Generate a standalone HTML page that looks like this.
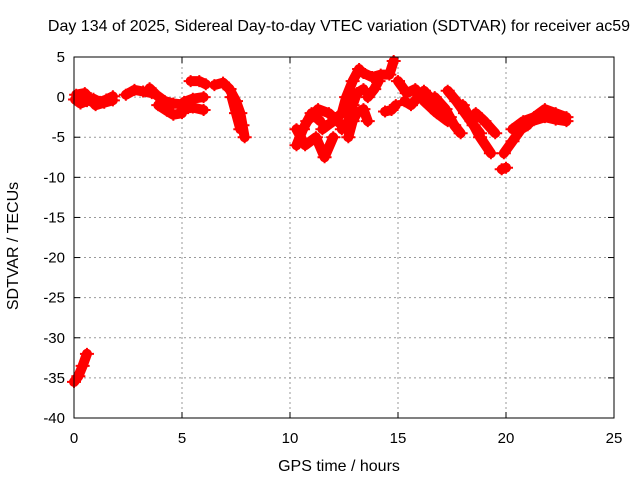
<!DOCTYPE html>
<html><head><meta charset="utf-8"><style>
body{margin:0;background:#fff}
svg{display:block;font-family:"Liberation Sans",sans-serif;font-size:15px}
</style></head><body>
<svg id="c" width="640" height="480">
<text x="339" y="31" text-anchor="middle" font-size="16">Day 134 of 2025, Sidereal Day-to-day VTEC variation (SDTVAR) for receiver ac59</text>
<text x="339" y="471" text-anchor="middle" font-size="16">GPS time / hours</text>
<text transform="translate(18,246) rotate(-90)" text-anchor="middle" font-size="16">SDTVAR / TECUs</text>
<g id="grid"></g><g id="ticks"></g><g id="marks"></g>
<rect x="74" y="57" width="540" height="361" fill="none" stroke="#000"/>
</svg>
<script>
const xTicks=[0,5,10,15,20,25];
const yTicks=[5,0,-5,-10,-15,-20,-25,-30,-35,-40];
const track1=[[0.0,-35.5],[0.2,-34.8],[0.4,-33.5],[0.6,-32]];
const track2=[[0.05,-0.3],[0.3,-0.8],[0.6,-0.5],[0.9,-0.2],[1.2,-0.6],[1.5,-0.3],[1.8,0.1]];
const track3=[[0.1,0.3],[0.5,0.5],[1.0,-1],[1.4,-0.7],[1.8,-0.4]];
const track4=[[2.4,0.3],[2.8,0.9],[3.2,0.7],[3.6,0.5]];
const track5=[[3.5,1.1],[3.8,0.3],[4.2,-0.5],[4.6,-0.8],[5.0,-0.9]];
const track6=[[3.9,-1],[4.3,-1.7],[4.6,-2.2],[5.0,-2]];
const track7=[[5.1,-0.6],[5.5,-0.2],[6.0,0]];
const track8=[[5.1,-1.5],[5.5,-1.3],[6.0,-1.6]];
const track9=[[5.4,2],[5.8,2],[6.1,1.6]];
const track10=[[6.5,1.5],[6.9,1.8],[7.2,1]];
const track11=[[7.2,1],[7.5,-0.5],[7.7,-2],[7.8,-3.5],[7.9,-5]];
const track12=[[7.3,0],[7.5,-2],[7.7,-4]];
const track13=[[10.3,-6],[10.6,-4],[11.0,-2],[11.4,-3]];
const track14=[[10.3,-4],[10.7,-6],[11.2,-5],[11.6,-7.5],[12.0,-5]];
const track15=[[10.8,-3],[11.3,-1.5],[11.8,-2],[12.2,-3],[12.6,-4]];
const track16=[[11.5,-4],[12.0,-3],[12.4,-2],[12.6,0],[12.9,2],[13.2,3.5]];
const track17=[[12.4,-4],[12.7,-3],[12.9,-1],[13.1,0.5],[13.4,1]];
const track18=[[12.7,-5],[12.9,-3],[13.1,-2],[13.4,-1.5],[13.6,-3]];
const track19=[[13.4,3],[13.8,2.5],[14.2,2.8],[14.6,2.8],[14.8,4.5]];
const track20=[[13.6,0],[13.9,1],[14.1,2]];
const track21=[[14.4,-1.8],[14.7,-1.6],[14.9,-1]];
const track22=[[15.0,2],[15.4,0.5],[15.8,1],[16.2,-0.5],[16.8,-2],[17.3,-3]];
const track23=[[15.3,-0.5],[15.6,-1],[16.2,0.8],[16.8,-1],[17.4,-2.5]];
const track24=[[16.7,0],[17.2,-1.5],[17.6,-3.5],[17.9,-4.5]];
const track25=[[17.3,0.8],[17.7,-0.5],[18.1,-2],[18.5,-3.5],[18.8,-4.5]];
const track26=[[18.0,-1],[18.4,-3],[18.8,-5],[19.3,-7]];
const track27=[[18.6,-2],[19.0,-3],[19.5,-4.5]];
const track28=[[19.8,-9],[20.0,-8.8]];
const track29=[[19.9,-7],[20.3,-5.5],[20.7,-4],[21.0,-3.5]];
const track30=[[20.3,-4],[20.8,-3],[21.3,-2.5],[21.8,-1.5],[22.3,-2],[22.8,-2.5]];
const track31=[[21.2,-3],[21.8,-2.5],[22.3,-2.8],[22.8,-3]];
const tracks=[track1,track2,track3,track4,track5,track6,track7,track8,track9,track10,track11,track12,track13,track14,track15,track16,track17,track18,track19,track20,track21,track22,track23,track24,track25,track26,track27,track28,track29,track30,track31];

const NS="http://www.w3.org/2000/svg";
const X=v=>74+v*540/25, Y=v=>57+(5-v)*361/45;
const grid=document.getElementById('grid'),ticks=document.getElementById('ticks'),marks=document.getElementById('marks');
function mk(tag,attrs,parent){const e=document.createElementNS(NS,tag);for(const k in attrs)e.setAttribute(k,attrs[k]);parent.appendChild(e);return e;}
xTicks.forEach(t=>{
  if(t>0&&t<25){const g=mk('line',{x1:X(t),x2:X(t),y1:57,y2:418,stroke:'#999','stroke-dasharray':'2,3'},grid);
  
  }
  const l=mk('line',{x1:X(t),x2:X(t),y1:418,y2:412,stroke:'#000'},ticks);
  
  
  const l2=mk('line',{x1:X(t),x2:X(t),y1:57,y2:63,stroke:'#000'},ticks);
  
  
  const tx=mk('text',{x:X(t),y:443,'text-anchor':'middle'},ticks);tx.textContent=t;
  
  
});
yTicks.forEach(t=>{
  if(t<5&&t>-40){const g=mk('line',{x1:74,x2:614,y1:Y(t),y2:Y(t),stroke:'#999','stroke-dasharray':'2,3'},grid);
  
  }
  const l=mk('line',{x1:74,x2:80,y1:Y(t),y2:Y(t),stroke:'#000'},ticks);
  
  
  const l2=mk('line',{x1:608,x2:614,y1:Y(t),y2:Y(t),stroke:'#000'},ticks);
  
  
  const tx=mk('text',{x:65,y:Y(t)+5,'text-anchor':'end'},ticks);tx.textContent=t;
  
  
});
tracks.forEach(tr=>{
  const p=mk('polyline',{points:tr.map(d=>X(d[0])+','+Y(d[1])).join(' '),fill:'none',stroke:'#f00','stroke-width':10,'stroke-linejoin':'round','stroke-linecap':'round'},marks);
  
  
  tr.forEach(d=>{
    const m=mk('path',{d:`M${X(d[0])-7},${Y(d[1])}h14M${X(d[0])},${Y(d[1])-6}v12`,stroke:'#f00','stroke-width':2},marks);
    
    
  });
});
</script>
</body></html>
